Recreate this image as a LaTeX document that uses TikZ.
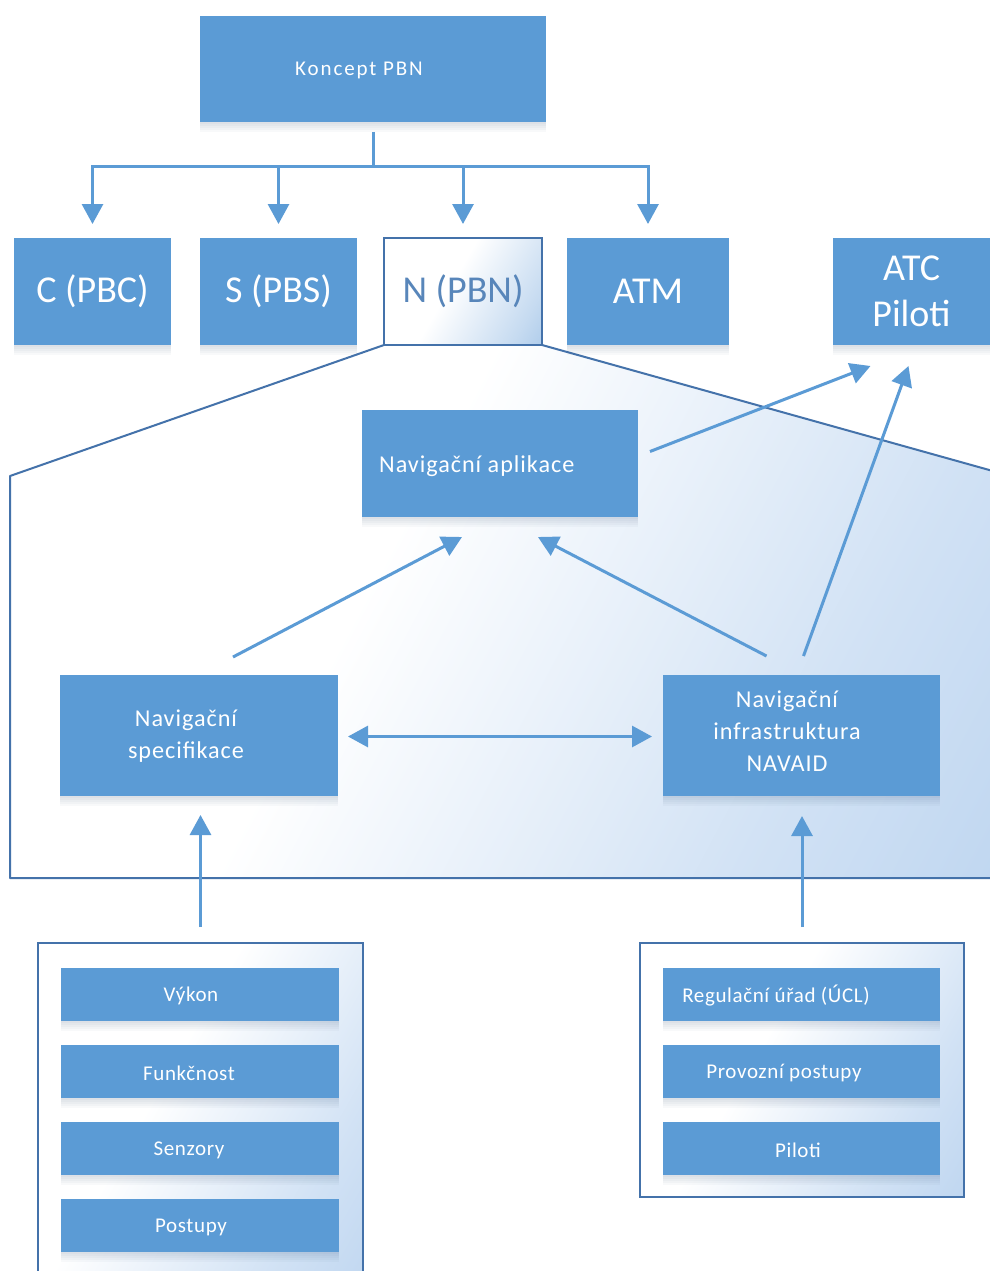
\documentclass[tikz,border=0pt]{standalone}
\usepackage{fontspec}
\setmainfont{Carlito}
\usetikzlibrary{arrows.meta,calc}

\definecolor{boxblue}{RGB}{91,155,213}
\definecolor{edgeblue}{RGB}{68,114,170}
\definecolor{paleblue}{RGB}{172,202,236}
\definecolor{deepfade}{RGB}{140,182,226}
\definecolor{ntext}{RGB}{88,134,186}
\definecolor{shade}{RGB}{40,70,110}

% soft white-to-blue fill used for the panels
\pgfdeclarehorizontalshading{panelfade}{100bp}{color(0bp)=(white); color(42bp)=(white); color(70bp)=(paleblue!55); color(100bp)=(paleblue)}
\pgfdeclarehorizontalshading{nfade}{100bp}{color(0bp)=(white); color(45bp)=(white); color(75bp)=(deepfade!50); color(100bp)=(deepfade)}

\begin{document}
\begin{tikzpicture}[x=1pt,y=-1pt,
  softdrop/.style={preaction={fill=shade, fill opacity=0.03, draw=none, transform canvas={yshift=-#1}}},
  box/.style={rectangle, fill=boxblue, inner sep=0pt, outer sep=0pt, text=white, anchor=north west,
    softdrop=2pt, softdrop=4pt, softdrop=6pt, softdrop=8pt, softdrop=10pt},
  panel/.style={rectangle, draw=edgeblue, line width=2pt, inner sep=0pt, outer sep=0pt, anchor=north west,
    shading=panelfade, shading angle=-30},
  txt/.style={text=white, inner sep=0pt, align=center},
  big/.style={font=\fontsize{38}{46}\selectfont},
  mid/.style={font=\fontsize{24.2}{32}\selectfont\addfontfeature{LetterSpace=4}},
  small/.style={font=\fontsize{21}{25}\selectfont\addfontfeature{LetterSpace=3}},
  konc/.style={font=\fontsize{21}{25}\selectfont\addfontfeature{LetterSpace=9}},
  conn/.style={draw=boxblue, line width=3pt},
  arr/.style={conn, -{Triangle[length=20pt,width=21pt]}},
  dbl/.style={conn, {Triangle[length=20pt,width=21pt]}-{Triangle[length=20pt,width=21pt]}},
  edge/.style={draw=edgeblue, line width=2pt, line join=round}
]
\useasboundingbox (0,0) rectangle (990,1271);
\fill[white] (0,0) rectangle (990,1271);

% corners of the expanded PBN panel
\coordinate (nbl) at (384,345);
\coordinate (nbr) at (542,345);
\coordinate (pl)  at (10,476);
\coordinate (pbl) at (10,878);
\coordinate (pbr) at (1000,878);
\coordinate (pr)  at (1000,473);

\path[shading=panelfade, shading angle=-28] (nbl) -- (pl) -- (pbl) -- (pbr) -- (pr) -- (nbr) -- cycle;
\draw[edge] (nbl) -- (pl) -- (pbl) -- (pbr);
\draw[edge] (nbr) -- (pr);

% top concept box
\node[box, minimum width=346pt, minimum height=106pt] (koncept) at (200,16) {};
\node[txt, konc] (konceptT) at (359,70) {Koncept PBN};

% second row
\node[box, big, minimum width=157pt, minimum height=107pt] (cpbc) at (14,238) {C (PBC)};
\node[box, big, minimum width=157pt, minimum height=107pt] (spbs) at (200,238) {S (PBS)};
\node[rectangle, draw=edgeblue, line width=2pt, inner sep=0pt, outer sep=0pt, anchor=south,
      shading=nfade, shading angle=-30, text=ntext, big,
      minimum width=158pt, minimum height=107pt] (npbn) at ($(nbl)!0.5!(nbr)$) {N (PBN)};
\node[box, big, minimum width=162pt, minimum height=107pt] (atm) at (567,238) {ATM};
\node[box, big, align=center, minimum width=157pt, minimum height=107pt] (atc) at (833,238) {ATC\\Piloti};

% tree connectors
\coordinate (hub) at ($(koncept.south)+(0,44)$);
\draw[conn] (koncept.south) ++(0,10) -- (hub);
\foreach \n in {cpbc,spbs,npbn,atm}
  \draw[arr] (hub) -| ($(\n.north)+(0,-14)$);

% inside the PBN panel
\node[box, minimum width=276pt, minimum height=107pt] (app) at (362,410) {};
\node[txt, mid, anchor=west] (appT) at (379,466) {Navigační aplikace};
\node[box, minimum width=278pt, minimum height=121pt] (spec) at (60,675) {};
\node[txt, mid] (specT) at (186,736) {Navigační\\specifikace};
\node[box, minimum width=277pt, minimum height=121pt] (infra) at (663,675) {};
\node[txt, mid] (infraT) at (787,731) {Navigační\\infrastruktura\\NAVAID};

\draw[arr] ($(spec.north)+(34,-18)$) -- ($(app.south)+(-38,20)$);
\draw[arr] ($(infra.north)+(-35,-19)$) -- ($(app.south)+(38,20)$);
\draw[arr] ($(infra.north)+(2,-19)$) -- ($(atc.south)+(-3,21)$);
\draw[arr] ($(app.east)+(12,-12)$) -- ($(atc.south)+(-41,21)$);
\draw[dbl] ($(spec.east)+(10,1)$) -- ($(infra.west)+(-11,1)$);

% lower groups
\node[panel, minimum width=325pt, minimum height=360pt] (lcont) at (38,943) {};
\node[panel, minimum width=324pt, minimum height=254pt] (rcont) at (640,943) {};

\node[box, minimum width=278pt, minimum height=53pt] (vykon) at (61,968) {};
\node[box, minimum width=278pt, minimum height=53pt] (funk) at (61,1045) {};
\node[box, minimum width=278pt, minimum height=53pt] (senz) at (61,1122) {};
\node[box, minimum width=278pt, minimum height=53pt] (post) at (61,1199) {};
\node[txt, small] (vykonT) at (191,996) {Výkon};
\node[txt, small] (funkT) at (189,1073) {Funkčnost};
\node[txt, small] (senzT) at (189,1150) {Senzory};
\node[txt, small] (postT) at (191,1227) {Postupy};

\node[box, minimum width=277pt, minimum height=53pt] (regul) at (663,968) {};
\node[box, minimum width=277pt, minimum height=53pt] (provoz) at (663,1045) {};
\node[box, minimum width=277pt, minimum height=53pt] (pilot) at (663,1122) {};
\node[txt, small] (regulT) at (776,996) {Regulační úřad (ÚCL)};
\node[txt, small] (provozT) at (784,1073) {Provozní postupy};
\node[txt, small] (pilotT) at (798,1150) {Piloti};

\draw[arr] ($(lcont.north)+(0,-16)$) -- ($(lcont.north |- spec.south)+(0,19)$);
\draw[arr] ($(rcont.north)+(0,-16)$) -- ($(rcont.north |- infra.south)+(0,20)$);
\end{tikzpicture}
\end{document}
